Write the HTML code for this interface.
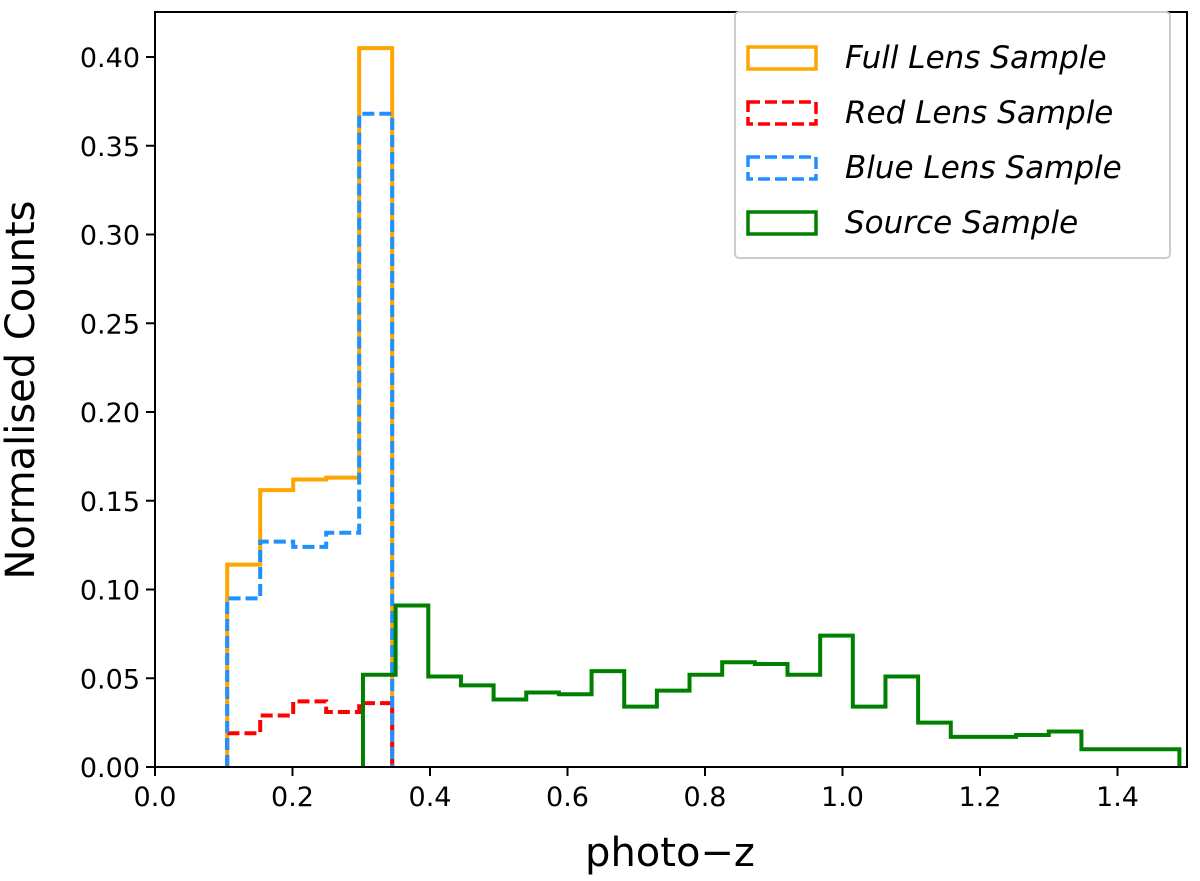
<!DOCTYPE html>
<html><head><meta charset="utf-8"><style>
body{margin:0;background:#fff;}
text{font-family:"DejaVu Sans","Liberation Sans",sans-serif;}
</style></head><body>
<svg id="chart" width="1200" height="876">
<g id="marks"></g>
<rect x="155" y="12" width="1032" height="755" fill="none" stroke="#000" stroke-width="2"/>
<g id="axes"></g>
<text x="670" y="866" font-size="40" text-anchor="middle">photo−z</text>
<text transform="translate(34,390) rotate(-90)" font-size="40" text-anchor="middle">Normalised Counts</text>
<g>
<rect x="735" y="12" width="435" height="246" fill="#fff" stroke="#ccc" stroke-width="2" rx="4"/>
<rect x="748" y="47" width="68" height="22" fill="none" stroke="orange" stroke-width="3.5"/>
<text x="845" y="68" font-size="31" font-style="italic">Full Lens Sample</text>
<rect x="748" y="102" width="68" height="22" fill="none" stroke="red" stroke-width="3.5" stroke-dasharray="12,5"/>
<text x="845" y="123" font-size="31" font-style="italic">Red Lens Sample</text>
<rect x="748" y="157" width="68" height="22" fill="none" stroke="dodgerblue" stroke-width="3.5" stroke-dasharray="12,5"/>
<text x="845" y="178" font-size="31" font-style="italic">Blue Lens Sample</text>
<rect x="748" y="212" width="68" height="22" fill="none" stroke="green" stroke-width="3.5"/>
<text x="845" y="233" font-size="31" font-style="italic">Source Sample</text>
</g>
</svg>
<script>
const lensStart = 0.105, lensWidth = 0.048;
const fullLens = [0.114, 0.156, 0.162, 0.163, 0.405];
const blueLens = [0.095, 0.127, 0.124, 0.132, 0.368];
const redLens = [0.019, 0.029, 0.037, 0.031, 0.036];
const srcStart = 0.3025, srcWidth = 0.0475;
const sourceVals = [0.052,0.091,0.051,0.046,0.038,0.042,0.041,0.054,0.034,0.043,0.052,0.059,0.058,0.052,0.074,0.034,0.051,0.025,0.017,0.017,0.018,0.020,0.010,0.010,0.010];
const xTicks = [0.0,0.2,0.4,0.6,0.8,1.0,1.2,1.4];
const yTicks = [0.00,0.05,0.10,0.15,0.20,0.25,0.30,0.35,0.40];
const NS='http://www.w3.org/2000/svg';
function X(v){return 155+v*687.5;}
function Y(v){return 767-v*1775;}
function stepPath(start,w,vals){
  let d='M'+X(start)+','+Y(0);
  vals.forEach((v,i)=>{d+=' L'+X(start+i*w)+','+Y(v)+' L'+X(start+(i+1)*w)+','+Y(v);});
  d+=' L'+X(start+vals.length*w)+','+Y(0);
  return d;
}
const marks=document.getElementById('marks');
function addPath(d,color,dash,name){
  const p=document.createElementNS(NS,'path');
  p.setAttribute('d',d);p.setAttribute('fill','none');p.setAttribute('stroke',color);
  p.setAttribute('stroke-width','4');
  if(dash)p.setAttribute('stroke-dasharray',dash);
  
  
  marks.appendChild(p);
}
addPath(stepPath(lensStart,lensWidth,fullLens),'orange',null,'full-lens-histogram');
addPath(stepPath(lensStart,lensWidth,redLens),'red','12,5','red-lens-histogram');
addPath(stepPath(lensStart,lensWidth,blueLens),'dodgerblue','12,5','blue-lens-histogram');
addPath(stepPath(srcStart,srcWidth,sourceVals),'green',null,'source-histogram');
const axes=document.getElementById('axes');
xTicks.forEach(t=>{
  const l=document.createElementNS(NS,'line');
  l.setAttribute('x1',X(t));l.setAttribute('x2',X(t));l.setAttribute('y1',767);l.setAttribute('y2',776);
  l.setAttribute('stroke','#000');l.setAttribute('stroke-width','2');
  
  
  axes.appendChild(l);
  const tx=document.createElementNS(NS,'text');
  tx.setAttribute('x',X(t));tx.setAttribute('y',806);tx.setAttribute('font-size','27');tx.setAttribute('text-anchor','middle');
  tx.textContent=t.toFixed(1);
  
  
  axes.appendChild(tx);
});
yTicks.forEach(t=>{
  const l=document.createElementNS(NS,'line');
  l.setAttribute('x1',146);l.setAttribute('x2',155);l.setAttribute('y1',Y(t));l.setAttribute('y2',Y(t));
  l.setAttribute('stroke','#000');l.setAttribute('stroke-width','2');
  
  
  axes.appendChild(l);
  const tx=document.createElementNS(NS,'text');
  tx.setAttribute('x',140);tx.setAttribute('y',Y(t)+10);tx.setAttribute('font-size','27');tx.setAttribute('text-anchor','end');
  tx.textContent=t.toFixed(2);
  
  
  axes.appendChild(tx);
});
</script>
</body></html>
